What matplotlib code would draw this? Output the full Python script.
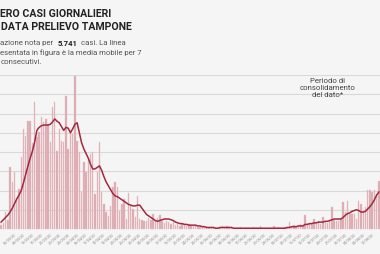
import matplotlib.pyplot as plt
import pandas as pd

# daily cases (bars) and 7-day moving average (line)
casi = [5, 8, 22, 12, 80, 61, 74, 40, 52, 94,
        130, 121, 140, 140, 112, 165, 120, 126, 146, 139,
        143, 137, 113, 159, 165, 101, 130, 114, 113, 173,
        104, 127, 124, 199, 114, 100, 48, 87, 74, 91,
        98, 100, 46, 74, 113, 48, 33, 22, 17, 30,
        55, 61, 55, 23, 33, 39, 13, 47, 30, 26,
        15, 43, 13, 12, 10, 10, 14, 12, 20, 10,
        14, 18, 10, 8, 11, 9, 6, 10, 5, 6,
        4, 6, 5, 4, 6, 5, 4, 4, 2, 3,
        2, 1, 2, 1, 1, 2, 1, 1, 3, 4,
        2, 4, 1, 2, 1, 0, 1, 2, 0, 1,
        1, 0, 1, 2, 1, 1, 4, 1, 0, 1,
        1, 1, 4, 1, 2, 1, 1, 2, 3, 9,
        3, 5, 3, 4, 6, 5, 18, 7, 6, 7,
        13, 8, 10, 6, 15, 9, 8, 10, 28, 12,
        11, 10, 13, 35, 22, 37, 20, 20, 20, 13,
        37, 33, 24, 28, 51, 51, 48, 51, 45, 62]

media = [9, 12, 15, 18, 22, 27, 33, 39, 44, 50,
         60, 71, 82, 92, 101, 113, 128, 132, 134, 135,
         135, 135, 136, 139, 143, 140, 138, 133, 128, 132,
         131, 125, 130, 136, 138, 125, 112, 104, 98, 92,
         84, 78, 78, 80, 82, 76, 68, 61, 56, 51,
         46, 43, 42, 40, 38, 36, 34, 32, 31, 30,
         30, 31, 31, 27, 23, 19, 17, 15, 13, 11,
         10, 11, 12, 13, 13, 13, 12, 11, 9, 8,
         7, 7, 6, 6, 5, 5, 5, 5, 4, 4,
         3, 3, 2, 2, 2, 2, 1, 1, 2, 2,
         2, 2, 2, 2, 1, 1, 1, 1, 1, 1,
         1, 1, 1, 1, 1, 1, 1, 1, 1, 1,
         1, 1, 1, 1, 1, 1, 1, 1, 2, 2,
         3, 3, 3, 4, 4, 4, 6, 6, 7, 7,
         8, 8, 9, 9, 9, 10, 10, 11, 12, 13,
         13, 13, 13, 15, 18, 20, 21, 23, 24, 25,
         24, 22, 22, 23, 26, 29, 33, 38, 44, 48]

giorni = pd.date_range('2020-02-28', periods=len(casi), freq='D')
etichette = [d.strftime('%d/%m/%y') for d in giorni]

bg = '#f5f5f5'
plt.rcParams['font.family'] = ['Roboto', 'DejaVu Sans']

W, H = 380, 255
fig = plt.figure(figsize=(W / 100, H / 100), dpi=100, facecolor=bg)
ax = fig.add_axes([0, 25 / H, 1, 154 / H])
ax.set_facecolor(bg)

x = list(range(len(casi)))
ax.bar(x, casi, width=0.62, color='#dca7ae', edgecolor='#e9c6ca', linewidth=0.3, zorder=2, clip_on=False)
ax.plot(x, media, color='#a5283f', linewidth=1.1, zorder=3, clip_on=False)

ax.set_xlim(-0.5, len(casi) - 0.5)
ax.set_ylim(0, 200)
ax.set_yticks(range(0, 201, 25))
ax.yaxis.grid(True, color='#d9d9d9', linewidth=0.8, zorder=0)
ax.tick_params(axis='y', left=False, labelleft=False)
for s in ax.spines.values():
    s.set_visible(False)

ax.set_xticks(x[6::4])
ax.set_xticklabels(etichette[6::4], rotation=40, ha='right', rotation_mode='anchor',
                   fontsize=2.6, color='#8a8a8a')
ax.tick_params(axis='x', length=0, pad=2)

def fx(px):
    return px / W
def fy(py):
    return 1 - py / H

# title and subtitle, as far as they are visible in the picture
fig.text(fx(0), fy(14), 'ERO CASI GIORNALIERI', ha='left', va='center',
         fontsize=7.6, fontweight='bold', color='#222222')
fig.text(fx(1), fy(27), 'DATA PRELIEVO TAMPONE', ha='left', va='center',
         fontsize=7.6, fontweight='bold', color='#222222')

r = fig.canvas.get_renderer()
t1 = fig.text(fx(0), fy(43), 'azione nota per', ha='left', va='center',
              fontsize=5.6, color='#555555')
x1 = t1.get_window_extent(r).x1 + 4
t2 = fig.text(x1 / W, fy(43), '5.741', ha='left', va='center',
              fontsize=5.6, fontweight='bold', color='#222222')
x2 = t2.get_window_extent(r).x1 + 4
fig.text(x2 / W, fy(43), 'casi. La linea', ha='left', va='center',
         fontsize=5.6, color='#555555')
fig.text(fx(0), fy(53), 'esentata in figura è la media mobile per 7', ha='left', va='center',
         fontsize=5.6, color='#555555')
fig.text(fx(1), fy(62), 'consecutivi.', ha='left', va='center',
         fontsize=5.6, color='#555555')

fig.text(fx(328), fy(88), 'Periodo di\nconsolidamento\ndel dato*', ha='center', va='center',
         fontsize=5.6, color='#444444', linespacing=1.25)

fig.savefig('out.png', dpi=100, facecolor=bg)
